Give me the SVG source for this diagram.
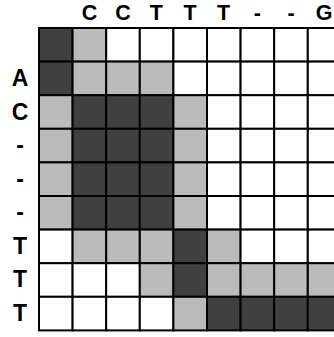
<svg xmlns="http://www.w3.org/2000/svg" width="334" height="337" viewBox="0 0 334 337">
<style>
.d{fill:#404040}.l{fill:#bbbbbb}.w{fill:#ffffff}
#grid rect{stroke:#000;stroke-width:2}
text{font-family:"Liberation Sans",Arial,sans-serif;font-weight:bold;fill:#000;text-anchor:middle}
.h{font-size:21.5px}.r{font-size:23px}
</style>
<rect x="0" y="0" width="334" height="337" fill="#fff"/>
<g id="header">
<text class="h" x="89.4" y="19.6">C</text>
<text class="h" x="123" y="19.6">C</text>
<text class="h" x="156.2" y="19.6">T</text>
<text class="h" x="190" y="19.6">T</text>
<text class="h" x="223.6" y="19.6">T</text>
<text class="h" x="257.4" y="19.6">-</text>
<text class="h" x="291" y="19.6">-</text>
<text class="h" x="324" y="19.6">G</text>
</g>
<g id="rowlabels">
<text class="r" x="20" y="86">A</text>
<text class="r" x="20" y="119.5">C</text>
<text class="r" x="20" y="153">-</text>
<text class="r" x="20" y="186.5">-</text>
<text class="r" x="20" y="220">-</text>
<text class="r" x="20" y="253.8">T</text>
<text class="r" x="20" y="287.4">T</text>
<text class="r" x="20" y="321">T</text>
</g>
<g id="grid">
<g id="row1">
<rect class="d" x="39" y="28" width="33.6" height="33.6"/><rect class="l" x="72.6" y="28" width="33.6" height="33.6"/><rect class="w" x="106.2" y="28" width="33.6" height="33.6"/><rect class="w" x="139.8" y="28" width="33.6" height="33.6"/><rect class="w" x="173.4" y="28" width="33.6" height="33.6"/><rect class="w" x="207" y="28" width="33.6" height="33.6"/><rect class="w" x="240.6" y="28" width="33.6" height="33.6"/><rect class="w" x="274.2" y="28" width="33.6" height="33.6"/><rect class="w" x="307.8" y="28" width="33.6" height="33.6"/>
</g>
<g id="row2">
<rect class="d" x="39" y="61.6" width="33.6" height="33.6"/><rect class="l" x="72.6" y="61.6" width="33.6" height="33.6"/><rect class="l" x="106.2" y="61.6" width="33.6" height="33.6"/><rect class="l" x="139.8" y="61.6" width="33.6" height="33.6"/><rect class="w" x="173.4" y="61.6" width="33.6" height="33.6"/><rect class="w" x="207" y="61.6" width="33.6" height="33.6"/><rect class="w" x="240.6" y="61.6" width="33.6" height="33.6"/><rect class="w" x="274.2" y="61.6" width="33.6" height="33.6"/><rect class="w" x="307.8" y="61.6" width="33.6" height="33.6"/>
</g>
<g id="row3">
<rect class="l" x="39" y="95.2" width="33.6" height="33.6"/><rect class="d" x="72.6" y="95.2" width="33.6" height="33.6"/><rect class="d" x="106.2" y="95.2" width="33.6" height="33.6"/><rect class="d" x="139.8" y="95.2" width="33.6" height="33.6"/><rect class="l" x="173.4" y="95.2" width="33.6" height="33.6"/><rect class="w" x="207" y="95.2" width="33.6" height="33.6"/><rect class="w" x="240.6" y="95.2" width="33.6" height="33.6"/><rect class="w" x="274.2" y="95.2" width="33.6" height="33.6"/><rect class="w" x="307.8" y="95.2" width="33.6" height="33.6"/>
</g>
<g id="row4">
<rect class="l" x="39" y="128.8" width="33.6" height="33.6"/><rect class="d" x="72.6" y="128.8" width="33.6" height="33.6"/><rect class="d" x="106.2" y="128.8" width="33.6" height="33.6"/><rect class="d" x="139.8" y="128.8" width="33.6" height="33.6"/><rect class="l" x="173.4" y="128.8" width="33.6" height="33.6"/><rect class="w" x="207" y="128.8" width="33.6" height="33.6"/><rect class="w" x="240.6" y="128.8" width="33.6" height="33.6"/><rect class="w" x="274.2" y="128.8" width="33.6" height="33.6"/><rect class="w" x="307.8" y="128.8" width="33.6" height="33.6"/>
</g>
<g id="row5">
<rect class="l" x="39" y="162.4" width="33.6" height="33.6"/><rect class="d" x="72.6" y="162.4" width="33.6" height="33.6"/><rect class="d" x="106.2" y="162.4" width="33.6" height="33.6"/><rect class="d" x="139.8" y="162.4" width="33.6" height="33.6"/><rect class="l" x="173.4" y="162.4" width="33.6" height="33.6"/><rect class="w" x="207" y="162.4" width="33.6" height="33.6"/><rect class="w" x="240.6" y="162.4" width="33.6" height="33.6"/><rect class="w" x="274.2" y="162.4" width="33.6" height="33.6"/><rect class="w" x="307.8" y="162.4" width="33.6" height="33.6"/>
</g>
<g id="row6">
<rect class="l" x="39" y="196" width="33.6" height="33.6"/><rect class="d" x="72.6" y="196" width="33.6" height="33.6"/><rect class="d" x="106.2" y="196" width="33.6" height="33.6"/><rect class="d" x="139.8" y="196" width="33.6" height="33.6"/><rect class="l" x="173.4" y="196" width="33.6" height="33.6"/><rect class="w" x="207" y="196" width="33.6" height="33.6"/><rect class="w" x="240.6" y="196" width="33.6" height="33.6"/><rect class="w" x="274.2" y="196" width="33.6" height="33.6"/><rect class="w" x="307.8" y="196" width="33.6" height="33.6"/>
</g>
<g id="row7">
<rect class="w" x="39" y="229.6" width="33.6" height="33.6"/><rect class="l" x="72.6" y="229.6" width="33.6" height="33.6"/><rect class="l" x="106.2" y="229.6" width="33.6" height="33.6"/><rect class="l" x="139.8" y="229.6" width="33.6" height="33.6"/><rect class="d" x="173.4" y="229.6" width="33.6" height="33.6"/><rect class="l" x="207" y="229.6" width="33.6" height="33.6"/><rect class="w" x="240.6" y="229.6" width="33.6" height="33.6"/><rect class="w" x="274.2" y="229.6" width="33.6" height="33.6"/><rect class="w" x="307.8" y="229.6" width="33.6" height="33.6"/>
</g>
<g id="row8">
<rect class="w" x="39" y="263.2" width="33.6" height="33.6"/><rect class="w" x="72.6" y="263.2" width="33.6" height="33.6"/><rect class="w" x="106.2" y="263.2" width="33.6" height="33.6"/><rect class="l" x="139.8" y="263.2" width="33.6" height="33.6"/><rect class="d" x="173.4" y="263.2" width="33.6" height="33.6"/><rect class="l" x="207" y="263.2" width="33.6" height="33.6"/><rect class="l" x="240.6" y="263.2" width="33.6" height="33.6"/><rect class="l" x="274.2" y="263.2" width="33.6" height="33.6"/><rect class="l" x="307.8" y="263.2" width="33.6" height="33.6"/>
</g>
<g id="row9">
<rect class="w" x="39" y="296.8" width="33.6" height="33.6"/><rect class="w" x="72.6" y="296.8" width="33.6" height="33.6"/><rect class="w" x="106.2" y="296.8" width="33.6" height="33.6"/><rect class="w" x="139.8" y="296.8" width="33.6" height="33.6"/><rect class="l" x="173.4" y="296.8" width="33.6" height="33.6"/><rect class="d" x="207" y="296.8" width="33.6" height="33.6"/><rect class="d" x="240.6" y="296.8" width="33.6" height="33.6"/><rect class="d" x="274.2" y="296.8" width="33.6" height="33.6"/><rect class="d" x="307.8" y="296.8" width="33.6" height="33.6"/>
</g>
</g>
</svg>
